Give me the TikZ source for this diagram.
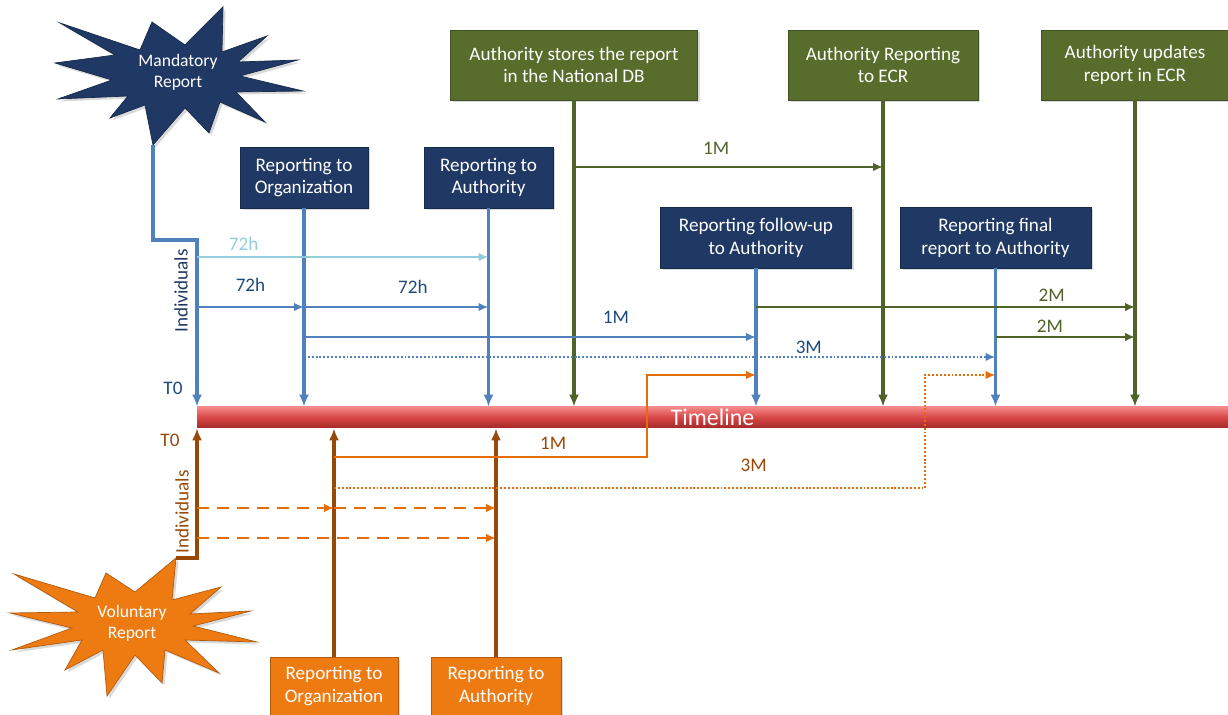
\documentclass[tikz,border=0pt]{standalone}
\usepackage{fontspec}
\setmainfont{Carlito}
\usetikzlibrary{arrows.meta, shadows, positioning}
\definecolor{navybox}{RGB}{31,56,100}
\definecolor{olivebox}{RGB}{88,108,44}
\definecolor{oliveline}{RGB}{79,98,40}
\definecolor{orangebox}{RGB}{238,122,18}
\definecolor{orangeline}{RGB}{228,108,10}
\definecolor{brownline}{RGB}{152,72,7}
\definecolor{blueline}{RGB}{79,129,189}
\definecolor{lightblueline}{RGB}{146,205,220}
\definecolor{bluetext}{RGB}{31,73,125}
\definecolor{redtop}{RGB}{245,135,135}
\definecolor{redmid}{RGB}{215,70,70}
\definecolor{redbot}{RGB}{165,40,40}

\begin{document}
\begin{tikzpicture}[
    x = 0.02cm, y = -0.02cm,
    font = \fontsize{10.9}{13}\selectfont,
    box/.style = {fill = #1, draw = #1!75!black, text = white, align = center, inner sep = 1pt, drop shadow = {opacity = 0.3, shadow xshift = 0.05cm, shadow yshift = -0.05cm}},
    burst/.style = {fill = #1, draw = #1!75!black, drop shadow = {opacity = 0.3, shadow xshift = 0.05cm, shadow yshift = -0.05cm}},
    tlbar/.style = {minimum width = 20.62cm, minimum height = 0.42cm, inner sep = 0pt, top color = redtop, bottom color = redbot, middle color = redmid, text = white, font = \fontsize{13.6}{15}\selectfont},
    vl/.style = {line width = 1.8pt, draw = #1, -{Latex[length = 0.24cm, width = 0.2cm]}},
    hl/.style = {line width = 1.1pt, draw = #1, -{Latex[length = 0.2cm, width = 0.17cm]}},
    dotline/.style = {dash pattern = on 1.1pt off 1.1pt},
    dashline/.style = {line width = 1.4pt, dash pattern = on 0.24cm off 0.16cm},
    lbl/.style = {text = #1, inner sep = 0pt},
]
\useasboundingbox (0,0) rectangle (1228,715);

\node[tlbar] (tl) at (712.5,417.5) {Timeline};

\draw[burst = navybox] (223,7) -- (222,52) -- (267,36) -- (238,62) -- (298,60) -- (240,76) -- (303,91) -- (236,92) -- (265,122) -- (220,102) -- (209,133) -- (185,108) -- (153,145) -- (145,105) -- (110,118) -- (128,96) -- (58,99) -- (112,80) -- (55,63) -- (115,55) -- (60,23) -- (140,50) -- (152,22) -- (185,45) -- cycle;
\node[text = white, align = center, font = \fontsize{10}{12}\selectfont] (mand) at (178,72.5) {Mandatory\\Report};
\coordinate (mandtip) at (153,145);

\draw[burst = orangebox] (106,573) -- (135,592) -- (176,558) -- (172,600) -- (221,587) -- (190,614) -- (251,611) -- (193,626) -- (257,642) -- (185,640) -- (219,673) -- (165,650) -- (162,683) -- (135,655) -- (107,696) -- (103,650) -- (65,670) -- (82,640) -- (12,650) -- (72,628) -- (10,613) -- (78,612) -- (14,574) -- (95,598) -- cycle;
\node[text = white, align = center, font = \fontsize{10}{12}\selectfont] (vol) at (132,623) {Voluntary\\Report};
\coordinate (voltip) at (176,558);

\node[box = navybox, minimum width = 2.56cm, minimum height = 1.22cm] (orgM) at (304,177.5) {Reporting to\\Organization};
\node[box = navybox, minimum width = 2.58cm, minimum height = 1.22cm] (authM) at (488.5,177.5) {Reporting to\\Authority};
\node[box = navybox, minimum width = 3.82cm, minimum height = 1.22cm] (fupM) at (756,237.5) {Reporting follow-up\\to Authority};
\node[box = navybox, minimum width = 3.82cm, minimum height = 1.22cm] (finM) at (995.5,237.5) {Reporting final\\report to Authority};

\node[box = olivebox, minimum width = 4.94cm, minimum height = 1.4cm] (dbA) at (574,65) {Authority stores the report\\in the National DB};
\node[box = olivebox, minimum width = 3.8cm, minimum height = 1.4cm] (ecrA) at (883,65) {Authority Reporting\\to ECR};
\node[box = olivebox, minimum width = 3.76cm, minimum height = 1.4cm] (updA) at (1135,65) {Authority updates\\report in ECR};

\node[box = orangebox, minimum width = 2.56cm, minimum height = 1.16cm] (orgV) at (334,686) {Reporting to\\Organization};
\node[box = orangebox, minimum width = 2.6cm, minimum height = 1.16cm] (authV) at (496,686) {Reporting to\\Authority};

\coordinate (t0) at (197,240);
\coordinate (v0) at (197,558);
\coordinate (r0) at (0,167);
\coordinate (r1) at (0,257);
\coordinate (r2) at (0,307);
\coordinate (r3) at (0,337);
\coordinate (r4) at (0,357);
\coordinate (r5) at (0,375);
\coordinate (r6) at (0,457);
\coordinate (r7) at (0,488);
\coordinate (r8) at (0,508);
\coordinate (r9) at (0,538);

\draw[vl = blueline] (mandtip) |- (t0) -- (t0 |- tl.north);
\draw[vl = blueline] (orgM) -- (orgM |- tl.north);
\draw[vl = blueline] (authM) -- (authM |- tl.north);
\draw[vl = blueline] (fupM) -- (fupM |- tl.north);
\draw[vl = blueline] (finM) -- (finM |- tl.north);
\draw[vl = oliveline] (dbA) -- (dbA |- tl.north);
\draw[vl = oliveline] (ecrA) -- (ecrA |- tl.north);
\draw[vl = oliveline] (updA) -- (updA |- tl.north);

\draw[vl = brownline] (voltip) -- (v0) -- (v0 |- tl.south);
\draw[vl = brownline] (orgV) -- (orgV |- tl.south);
\draw[vl = brownline] (authV) -- (authV |- tl.south);

\node[lbl = bluetext] (t0m) at (173,388) {T0};
\node[lbl = brownline] (t0v) at (170,440) {T0};
\node[lbl = navybox, rotate = 90] (indm) at (181,291) {Individuals};
\node[lbl = brownline, rotate = 90] (indv) at (182,512) {Individuals};

\draw[hl = lightblueline] (t0 |- r1) -- node[lbl = lightblueline, pos = 0.16, yshift = 0.26cm] {72h} (authM |- r1);
\draw[hl = blueline] (t0 |- r2) -- node[lbl = bluetext, pos = 0.5, yshift = 0.44cm] {72h} (orgM |- r2);
\draw[hl = blueline] (orgM |- r2) -- node[lbl = bluetext, pos = 0.59, yshift = 0.4cm] {72h} (authM |- r2);
\draw[hl = blueline] (orgM |- r3) -- node[lbl = bluetext, pos = 0.69, yshift = 0.4cm] {1M} (fupM |- r3);
\draw[hl = blueline, dotline] (orgM |- r4) -- node[lbl = bluetext, pos = 0.73, yshift = 0.2cm] {3M} (finM |- r4);

\draw[hl = oliveline] (dbA |- r0) -- node[lbl = oliveline, pos = 0.46, yshift = 0.38cm] {1M} (ecrA |- r0);
\draw[hl = oliveline] (fupM |- r2) -- node[lbl = oliveline, pos = 0.78, yshift = 0.24cm] {2M} (updA |- r2);
\draw[hl = oliveline] (finM |- r3) -- node[lbl = oliveline, pos = 0.39, yshift = 0.22cm] {2M} (updA |- r3);

\draw[hl = orangeline] (orgV |- r6) -- node[lbl = brownline, pos = 0.7, yshift = 0.28cm] {1M} ++(313,0) |- (fupM |- r5);
\draw[hl = orangeline, dotline] (orgV |- r7) -- node[lbl = brownline, pos = 0.71, yshift = 0.46cm] {3M} ++(591,0) |- (finM |- r5);
\draw[hl = orangeline, dashline] (v0 |- r8) -- (orgV |- r8);
\draw[hl = orangeline, dashline] (orgV |- r8) -- (authV |- r8);
\draw[hl = orangeline, dashline] (v0 |- r9) -- (authV |- r9);
\end{tikzpicture}
\end{document}
